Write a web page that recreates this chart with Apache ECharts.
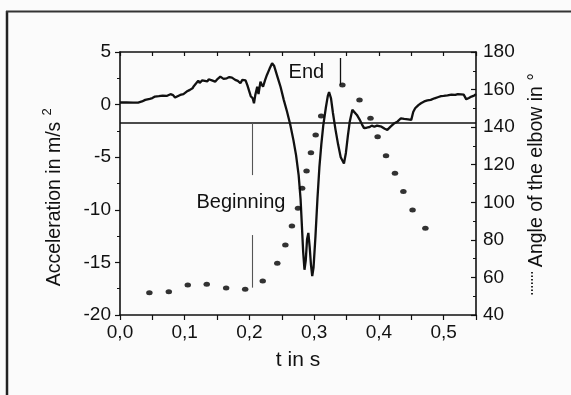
<!DOCTYPE html>
<html>
<head>
<meta charset="utf-8">
<script src="https://cdn.jsdelivr.net/npm/echarts@6/dist/echarts.min.js"></script>
<style>
html,body{margin:0;padding:0;background:#fbfbfb;}
#c{width:571px;height:395px;}
</style>
</head>
<body>
<div id="c"></div>
<script>
// ---- data: [t in s, acceleration in m/s^2] ----
const accPoints = [
[0.000,0.20],[0.010,0.22],[0.020,0.18],[0.028,0.19],[0.034,0.30],[0.039,0.45],[0.046,0.55],[0.050,0.62],
[0.054,0.76],[0.057,0.70],[0.060,0.80],[0.063,0.78],[0.066,0.85],[0.069,0.80],[0.072,0.82],[0.075,0.90],
[0.078,0.99],[0.082,0.90],[0.085,0.67],[0.089,0.80],[0.093,0.92],[0.098,1.00],[0.101,1.15],[0.103,1.24],
[0.105,1.10],[0.108,1.40],[0.110,1.30],[0.112,1.55],[0.114,1.75],[0.116,1.87],[0.118,2.05],[0.121,2.28],
[0.123,2.05],[0.125,2.15],[0.127,2.30],[0.129,2.13],[0.131,2.25],[0.133,2.35],[0.135,2.20],[0.137,2.41],
[0.139,2.50],[0.142,2.30],[0.144,2.40],[0.147,2.18],[0.149,2.35],[0.151,2.45],[0.153,2.55],[0.155,2.66],
[0.157,2.50],[0.160,2.45],[0.162,2.60],[0.165,2.50],[0.167,2.65],[0.169,2.62],[0.171,2.45],[0.173,2.56],
[0.175,2.40],[0.178,2.35],[0.180,2.45],[0.182,2.25],[0.184,2.30],[0.186,2.03],[0.188,2.20],[0.189,2.35],
[0.191,2.41],[0.194,2.30],[0.197,1.80],[0.199,1.40],[0.202,0.80],[0.205,0.60],[0.207,0.13],[0.209,0.90],
[0.212,1.70],[0.214,1.00],[0.217,2.18],[0.219,1.90],[0.221,1.70],[0.224,2.30],[0.227,2.82],[0.231,3.40],
[0.235,3.93],[0.238,3.70],[0.240,3.30],[0.244,2.50],[0.248,1.70],[0.253,0.45],[0.258,-0.66],[0.263,-1.90],
[0.268,-3.40],[0.272,-4.80],[0.276,-6.70],[0.279,-9.00],[0.281,-11.5],[0.283,-14.0],[0.285,-15.7],[0.287,-14.8],
[0.289,-12.8],[0.291,-12.2],[0.293,-13.5],[0.295,-15.2],[0.297,-16.3],[0.299,-15.5],[0.302,-12.5],[0.305,-9.0],
[0.308,-6.0],[0.311,-3.8],[0.314,-2.0],[0.318,-0.3],[0.321,0.8],[0.323,1.2],[0.326,0.6],[0.329,-0.8],
[0.333,-2.4],[0.337,-3.8],[0.341,-5.0],[0.346,-5.6],[0.349,-4.6],[0.352,-3.0],[0.355,-1.6],[0.359,-0.5],
[0.362,-0.6],[0.366,-0.98],[0.370,-1.4],[0.374,-1.9],[0.377,-2.24],[0.381,-2.2],[0.385,-2.15],[0.389,-2.0],
[0.393,-2.1],[0.397,-2.0],[0.400,-1.95],[0.404,-2.1],[0.409,-2.3],[0.413,-2.4],[0.418,-2.1],[0.424,-1.77],
[0.429,-1.6],[0.434,-1.3],[0.439,-1.35],[0.445,-1.40],[0.450,-1.45],[0.453,-0.70],[0.456,-0.35],[0.461,-0.05],
[0.463,0.10],[0.465,0.13],[0.468,0.28],[0.470,0.30],[0.473,0.42],[0.475,0.40],[0.478,0.50],[0.480,0.45],
[0.483,0.58],[0.486,0.60],[0.489,0.72],[0.492,0.72],[0.496,0.80],[0.500,0.83],[0.503,0.92],[0.506,0.88],
[0.509,1.00],[0.512,0.95],[0.515,1.02],[0.518,0.92],[0.522,1.00],[0.525,1.06],[0.527,0.98],[0.531,0.95],
[0.535,0.50],[0.537,0.58],[0.539,0.62],[0.541,0.70],[0.543,0.76],[0.547,0.85],[0.550,1.00]
];

// elbow angle samples (dotted series)
const tAng = [0.0454,0.0754,0.1047,0.1340,0.1640,0.1934,0.2205,0.2430,0.2555,0.2656,0.2750,0.2814,0.2882,0.2950,0.3023,0.3108,0.3436,0.3700,0.3870,0.3980,0.4110,0.4248,0.4378,0.4520,0.4718];
const ang = [51.9,52.4,56.0,56.4,54.4,53.7,58.1,67.5,77.3,87.4,96.8,107.5,116.7,126.4,135.8,145.9,162.4,154.5,144.7,134.9,124.8,115.4,105.7,95.9,86.2];

const refLevel = -1.74;          // horizontal reference line (acceleration units)
const beginT = 0.205;            // "Beginning" marker time
const beginSegs = [[-1.74,-6.7],[-12.4,-17.4]];
const endT = 0.340;              // "End" marker time
const endSeg = [4.43,1.87];
const beginLabel = {text:'Beginning', t:0.1868, a:-9.33};
const endLabel = {text:'End', t:0.288, a:3.1};

const xTickLabels = ['0,0','0,1','0,2','0,3','0,4','0,5'];
const accTitle = 'Acceleration in m/s';
const accSup = '2';
const angTitle = 'Angle of the elbow in °';
const xTitle = 't in s';

const FONT = '"Liberation Sans", Arial, Helvetica, sans-serif';
const INK = '#111';

const chart = echarts.init(document.getElementById('c'), null, {renderer:'canvas'});

const axisCommon = {
  axisLine:{show:true, onZero:false, lineStyle:{color:INK, width:1.6}},
  splitLine:{show:false},
  axisLabel:{color:INK, fontFamily:FONT, fontSize:19},
};

chart.setOption({
  backgroundColor:'#fbfbfb',
  animation:false,
  grid:{left:120, top:52, width:356, height:263},
  xAxis:[
    Object.assign({}, axisCommon, {
      type:'value', position:'bottom', min:0, max:0.55, interval:0.05,
      axisTick:{show:true, inside:false, length:5, lineStyle:{color:INK, width:1.2}},
      axisLabel:Object.assign({}, axisCommon.axisLabel, {margin:8,
        formatter:function(v){
          const k = Math.round(v*10);
          if (Math.abs(v*10-k) < 1e-6 && k < xTickLabels.length) return xTickLabels[k];
          return '';
        }})
    }),
    Object.assign({}, axisCommon, {
      type:'value', position:'top', min:0, max:0.55, interval:0.05,
      axisTick:{show:true, inside:true, length:4, lineStyle:{color:INK, width:1.2}},
      axisLabel:{show:false}
    })
  ],
  yAxis:[
    Object.assign({}, axisCommon, {
      type:'value', position:'left', min:-20, max:5, interval:5,
      axisTick:{show:true, inside:false, length:5, lineStyle:{color:INK, width:1.2}},
      minorTick:{show:true, splitNumber:2, length:3, lineStyle:{color:INK, width:1}},
      axisLabel:Object.assign({}, axisCommon.axisLabel, {margin:9})
    }),
    Object.assign({}, axisCommon, {
      type:'value', position:'right', min:40, max:180, interval:20,
      axisTick:{show:true, inside:true, length:5, lineStyle:{color:INK, width:1.2}},
      minorTick:{show:true, splitNumber:2, length:3, lineStyle:{color:INK, width:1}},
      axisLabel:Object.assign({}, axisCommon.axisLabel, {margin:7})
    })
  ],
  series:[
    {
      type:'line', xAxisIndex:0, yAxisIndex:0, showSymbol:false, smooth:false,
      data:accPoints,
      lineStyle:{color:INK, width:2.3},
      z:3,
      markLine:{
        silent:true, symbol:'none', animation:false,
        label:{show:false},
        data:[
          {yAxis:refLevel, lineStyle:{color:INK, width:1.6, type:'solid'}},
          [{coord:[beginT, beginSegs[0][0]], lineStyle:{color:'#555', width:1.1, type:'solid'}},{coord:[beginT, beginSegs[0][1]]}],
          [{coord:[beginT, beginSegs[1][0]], lineStyle:{color:'#555', width:1.1, type:'solid'}},{coord:[beginT, beginSegs[1][1]]}],
          [{coord:[endT, endSeg[0]], lineStyle:{color:INK, width:1.3, type:'solid'}},{coord:[endT, endSeg[1]]}]
        ]
      },
      markPoint:{
        silent:true, symbol:'circle', symbolSize:0, animation:false,
        label:{show:true, position:'inside', color:INK, fontFamily:FONT, fontSize:20},
        data:[
          {coord:[beginLabel.t, beginLabel.a], value:beginLabel.text, label:{formatter:beginLabel.text}},
          {coord:[endLabel.t, endLabel.a], value:endLabel.text, label:{formatter:endLabel.text}}
        ]
      }
    },
    {
      type:'scatter', xAxisIndex:0, yAxisIndex:1,
      data:tAng.map((t,i)=>[t, ang[i]]),
      symbol:'circle', symbolSize:[6.5,5],
      itemStyle:{color:'#000'},
      z:4
    }
  ],
  graphic:[
    // scanned page frame
    {type:'line', shape:{x1:7, y1:11, x2:7, y2:395}, style:{stroke:'#222', lineWidth:2.5}, silent:true},
    {type:'line', shape:{x1:6, y1:11.5, x2:571, y2:11.5}, style:{stroke:'#333', lineWidth:2}, silent:true},
    // axis titles
    {type:'text', x:55, y:204, rotation:Math.PI/2, silent:true,
      style:{text:accTitle, fill:INK, font:'19.5px '+FONT, textAlign:'center', textVerticalAlign:'middle'}},
    {type:'text', x:47, y:112, rotation:Math.PI/2, silent:true,
      style:{text:accSup, fill:INK, font:'13px '+FONT, textAlign:'center', textVerticalAlign:'middle'}},
    {type:'text', x:537, y:170, rotation:Math.PI/2, silent:true,
      style:{text:angTitle, fill:INK, font:'19.5px '+FONT, textAlign:'center', textVerticalAlign:'middle'}},
    {type:'line', shape:{x1:532, y1:272, x2:532, y2:295}, style:{stroke:INK, lineWidth:1.8, lineDash:[1.5,2]}, silent:true},
    {type:'text', x:298, y:360, silent:true,
      style:{text:xTitle, fill:INK, font:'21px '+FONT, textAlign:'center', textVerticalAlign:'middle'}}
  ]
});
</script>
</body>
</html>
